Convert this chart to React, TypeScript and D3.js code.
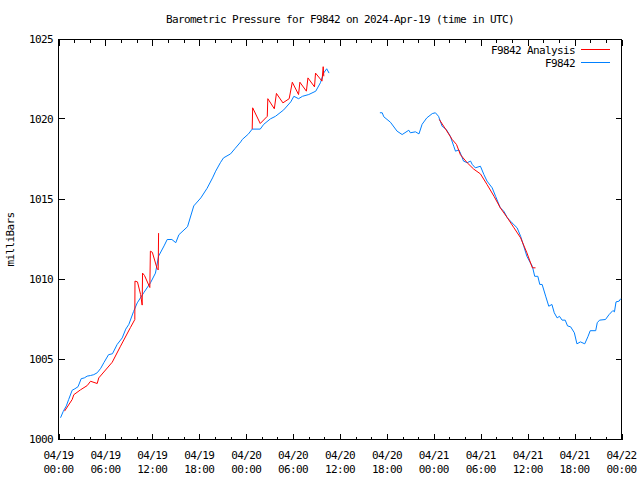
import React, { useEffect } from "react";
import * as d3 from "d3";

// hours since 2024-04-19 00:00 UTC, pressure in mb; null = gap
const blueHours: (number | null)[] = [
  0.26, 0.6, 1.0, 1.3, 1.75, 2.1, 2.5, 2.9, 3.3, 3.67, 4.1, 4.5, 4.95, 5.4, 5.8, 6.4, 6.9, 7.5, 8.15, 8.6,
  9.0, 9.6, 10.07, 10.9, 11.77, 12.4, 12.8, 13.5, 13.9, 14.5, 15.0, 15.4, 16.5, 17.3, 18.2, 19.0, 19.7,
  20.1, 20.7, 21.1, 22.0, 22.6, 23.3, 23.5, 24.3, 24.77, 25.8, 26.25, 27.1, 27.75, 28.8, 29.7, 30.1,
  30.7, 31.2, 32.0, 32.9, 33.5, 33.9, 34.3, 34.6,
  null,
  41.1, 41.4, 41.6, 42.45, 43.3, 43.95, 44.8, 45.0, 45.65, 46.1, 46.5, 47.1, 47.8, 48.2, 48.6, 49.06,
  49.6, 50.1, 50.55, 50.77, 51.2, 51.4, 51.8, 52.26, 52.7, 52.9, 53.3, 53.96, 54.4, 54.8, 55.46, 55.9,
  56.5, 56.95, 57.4, 58.0, 58.65, 59.1, 59.5, 59.9, 60.35, 60.6, 60.9, 61.3, 61.55, 61.85, 62.3, 62.7,
  63.1, 63.4, 63.77, 64.07, 64.4, 64.8, 65.1, 65.5, 65.97, 66.3, 66.75, 67.3, 67.7, 68.0, 68.7, 68.9,
  69.2, 69.95, 70.4, 70.9, 71.1, 71.3, 71.7, 71.9,
];
const bluePressure: (number | null)[] = [
  1001.36, 1001.75, 1002.1, 1002.5, 1003.08, 1003.17, 1003.3, 1003.8, 1003.85, 1003.96, 1004.0, 1004.05,
  1004.17, 1004.45, 1004.8, 1005.3, 1005.36, 1005.94, 1006.35, 1006.9, 1007.2, 1008.0, 1008.54, 1009.17,
  1009.8, 1010.4, 1011.46, 1012.1, 1012.5, 1012.5, 1012.3, 1012.8, 1013.3, 1014.6, 1015.1, 1015.7,
  1016.35, 1016.77, 1017.3, 1017.6, 1017.85, 1018.2, 1018.6, 1018.75, 1019.1, 1019.4, 1019.4, 1019.7,
  1020.04, 1020.2, 1020.6, 1021.1, 1021.45, 1021.3, 1021.45, 1021.56, 1021.77, 1022.3, 1022.9, 1023.17,
  1022.9,
  null,
  1020.42, 1020.42, 1020.17, 1019.83, 1019.27, 1019.06, 1019.33, 1019.17, 1019.23, 1019.1, 1019.7,
  1020.1, 1020.37, 1020.42, 1020.2, 1019.58, 1019.375, 1018.96, 1018.33, 1018.02, 1018.1, 1017.9,
  1017.4, 1017.3, 1017.4, 1017.2, 1016.98, 1017.08, 1016.56, 1016.15, 1015.73, 1015.2, 1014.48,
  1014.27, 1013.86, 1013.54, 1013.23, 1012.7, 1012.08, 1011.45, 1011.04, 1010.83, 1010.2, 1010.2,
  1009.69, 1009.69, 1008.96, 1008.33, 1008.44, 1007.92, 1007.6, 1007.7, 1007.46, 1007.46, 1007.1,
  1007.04, 1006.67, 1005.98, 1006.1, 1005.98, 1006.42, 1006.8, 1006.8, 1007.3, 1007.46, 1007.5, 1007.8,
  1008.06, 1007.98, 1008.6, 1008.65, 1008.8,
];

const redHours: (number | null)[] = [
  0.77, 1.75, 1.96, 2.8, 3.67, 4.1, 4.95, 5.15, 6.87, 7.93, 9.2, 9.76, 9.78, 10.1, 10.5, 10.7, 10.75,
  11.0, 11.68, 11.75, 12.0, 12.6, 12.75, 12.8,
  null,
  24.77, 24.83, 25.8, 26.7, 26.77, 27.6, 27.87, 28.7, 29.5, 29.9, 30.7, 30.87, 31.7, 31.9, 32.74, 32.87,
  33.7, 33.85, 33.93,
  null,
  48.7, 49.5, 50.35, 50.9, 51.4, 52.26, 53.1, 53.96, 54.8, 55.7, 56.5, 57.4, 58.25, 59.1, 59.9, 60.6, 61.0,
];
const redPressure: (number | null)[] = [
  1001.77, 1002.5, 1002.8, 1003.1, 1003.37, 1003.64, 1003.5, 1003.85, 1004.83, 1005.83, 1007.0, 1007.5,
  1009.9, 1009.85, 1009.06, 1008.4, 1010.4, 1010.25, 1009.5, 1011.77, 1011.7, 1010.7, 1010.6, 1012.9,
  null,
  1019.4, 1020.73, 1019.75, 1020.2, 1021.3, 1020.67, 1021.63, 1021.04, 1021.3, 1022.33, 1021.56,
  1022.33, 1021.77, 1022.6, 1022.04, 1022.9, 1022.4, 1023.3, 1022.7,
  null,
  1020.0, 1019.4, 1018.75, 1018.44, 1017.8, 1017.3, 1016.9, 1016.6, 1015.94, 1015.2, 1014.48, 1013.86,
  1013.23, 1012.6, 1011.67, 1010.73, 1010.73,
];

const xTickHours = [0, 6, 12, 18, 24, 30, 36, 42, 48, 54, 60, 66, 72];
const xTickDates = ["04/19", "04/19", "04/19", "04/19", "04/20", "04/20", "04/20", "04/20", "04/21", "04/21", "04/21", "04/21", "04/22"];
const xTickTimes = ["00:00", "06:00", "12:00", "18:00", "00:00", "06:00", "12:00", "18:00", "00:00", "06:00", "12:00", "18:00", "00:00"];
const yTicks = [1000, 1005, 1010, 1015, 1020, 1025];

const seriesNames = ["F9842 Analysis", "F9842"];
const seriesColors = ["#ff0000", "#0080ff"];

const title = "Barometric Pressure for F9842 on 2024-Apr-19 (time in UTC)";
const yLabel = "milliBars";

const W = 640, H = 480;
const L = 58.5, R = 621.5, T = 39.5, B = 439.5;
const FONT = "'DejaVu Sans Mono', 'Liberation Mono', monospace";
const FS = 11;
const LS = -0.62;

export default function App() {
  useEffect(() => {
    document.body.style.margin = "0";
  }, []);

  const x = d3.scaleLinear().domain([0, 72]).range([L, R]);
  const y = d3.scaleLinear().domain([1000, 1025]).range([B, T]);

  const mk = (hs: (number | null)[], vs: (number | null)[]) =>
    hs.map((h, i) => ({ h, v: vs[i] }));
  const line = d3
    .line<{ h: number | null; v: number | null }>()
    .defined((d) => d.h !== null && d.v !== null)
    .x((d) => x(d.h as number))
    .y((d) => y(d.v as number));

  const minorHours = d3.range(0, 73, 2).filter((h) => h % 6 !== 0);

  const textStyle = { fontFamily: FONT, fontSize: FS, letterSpacing: LS } as React.CSSProperties;

  return (
    <svg width={W} height={H} style={{ display: "block", background: "#fff" }}>
      <rect x={0} y={0} width={W} height={H} fill="#fff" />
      <text x={(L + R) / 2} y={23} textAnchor="middle" style={textStyle}>
        {title}
      </text>
      <text
        transform={`translate(14,${(T + B) / 2}) rotate(-90)`}
        textAnchor="middle"
        style={textStyle}
      >
        {yLabel}
      </text>

      <g shapeRendering="crispEdges" stroke="#000" strokeWidth={1}>
        {yTicks.map((t) => (
          <g key={"y" + t}>
            <line x1={L} x2={L + 6} y1={Math.round(y(t)) + 0.5 - 1} y2={Math.round(y(t)) + 0.5 - 1} />
            <line x1={R} x2={R - 6} y1={Math.round(y(t)) + 0.5 - 1} y2={Math.round(y(t)) + 0.5 - 1} />
          </g>
        ))}
        {xTickHours.map((h) => (
          <g key={"x" + h}>
            <line x1={Math.round(x(h)) + 0.5} x2={Math.round(x(h)) + 0.5} y1={B} y2={B - 6} />
            <line x1={Math.round(x(h)) + 0.5} x2={Math.round(x(h)) + 0.5} y1={T} y2={T + 6} />
          </g>
        ))}
        {minorHours.map((h) => (
          <g key={"m" + h}>
            <line x1={Math.round(x(h)) + 0.5} x2={Math.round(x(h)) + 0.5} y1={B} y2={B - 3} />
            <line x1={Math.round(x(h)) + 0.5} x2={Math.round(x(h)) + 0.5} y1={T} y2={T + 3} />
          </g>
        ))}
        <rect x={L} y={T} width={R - L} height={B - T} fill="none" />
      </g>

      {yTicks.map((t) => (
        <text key={"yl" + t} x={53} y={y(t) + 3.5} textAnchor="end" style={textStyle}>
          {t}
        </text>
      ))}
      {xTickHours.map((h, i) => (
        <g key={"xl" + h}>
          <text x={x(h)} y={459} textAnchor="middle" style={textStyle}>
            {xTickDates[i]}
          </text>
          <text x={x(h)} y={473} textAnchor="middle" style={textStyle}>
            {xTickTimes[i]}
          </text>
        </g>
      ))}

      <path d={line(mk(bluePressure.length ? blueHours : [], bluePressure)) || ""} fill="none" stroke={seriesColors[1]} strokeWidth={1} />
      <path d={line(mk(redHours, redPressure)) || ""} fill="none" stroke={seriesColors[0]} strokeWidth={1} />

      {seriesNames.map((n, i) => (
        <g key={n}>
          <text x={575} y={53.5 + i * 13} textAnchor="end" style={textStyle}>
            {n}
          </text>
          <line x1={581} x2={610} y1={49.5 + i * 13} y2={49.5 + i * 13} stroke={seriesColors[i]} strokeWidth={1} shapeRendering="crispEdges" />
        </g>
      ))}
    </svg>
  );
}
